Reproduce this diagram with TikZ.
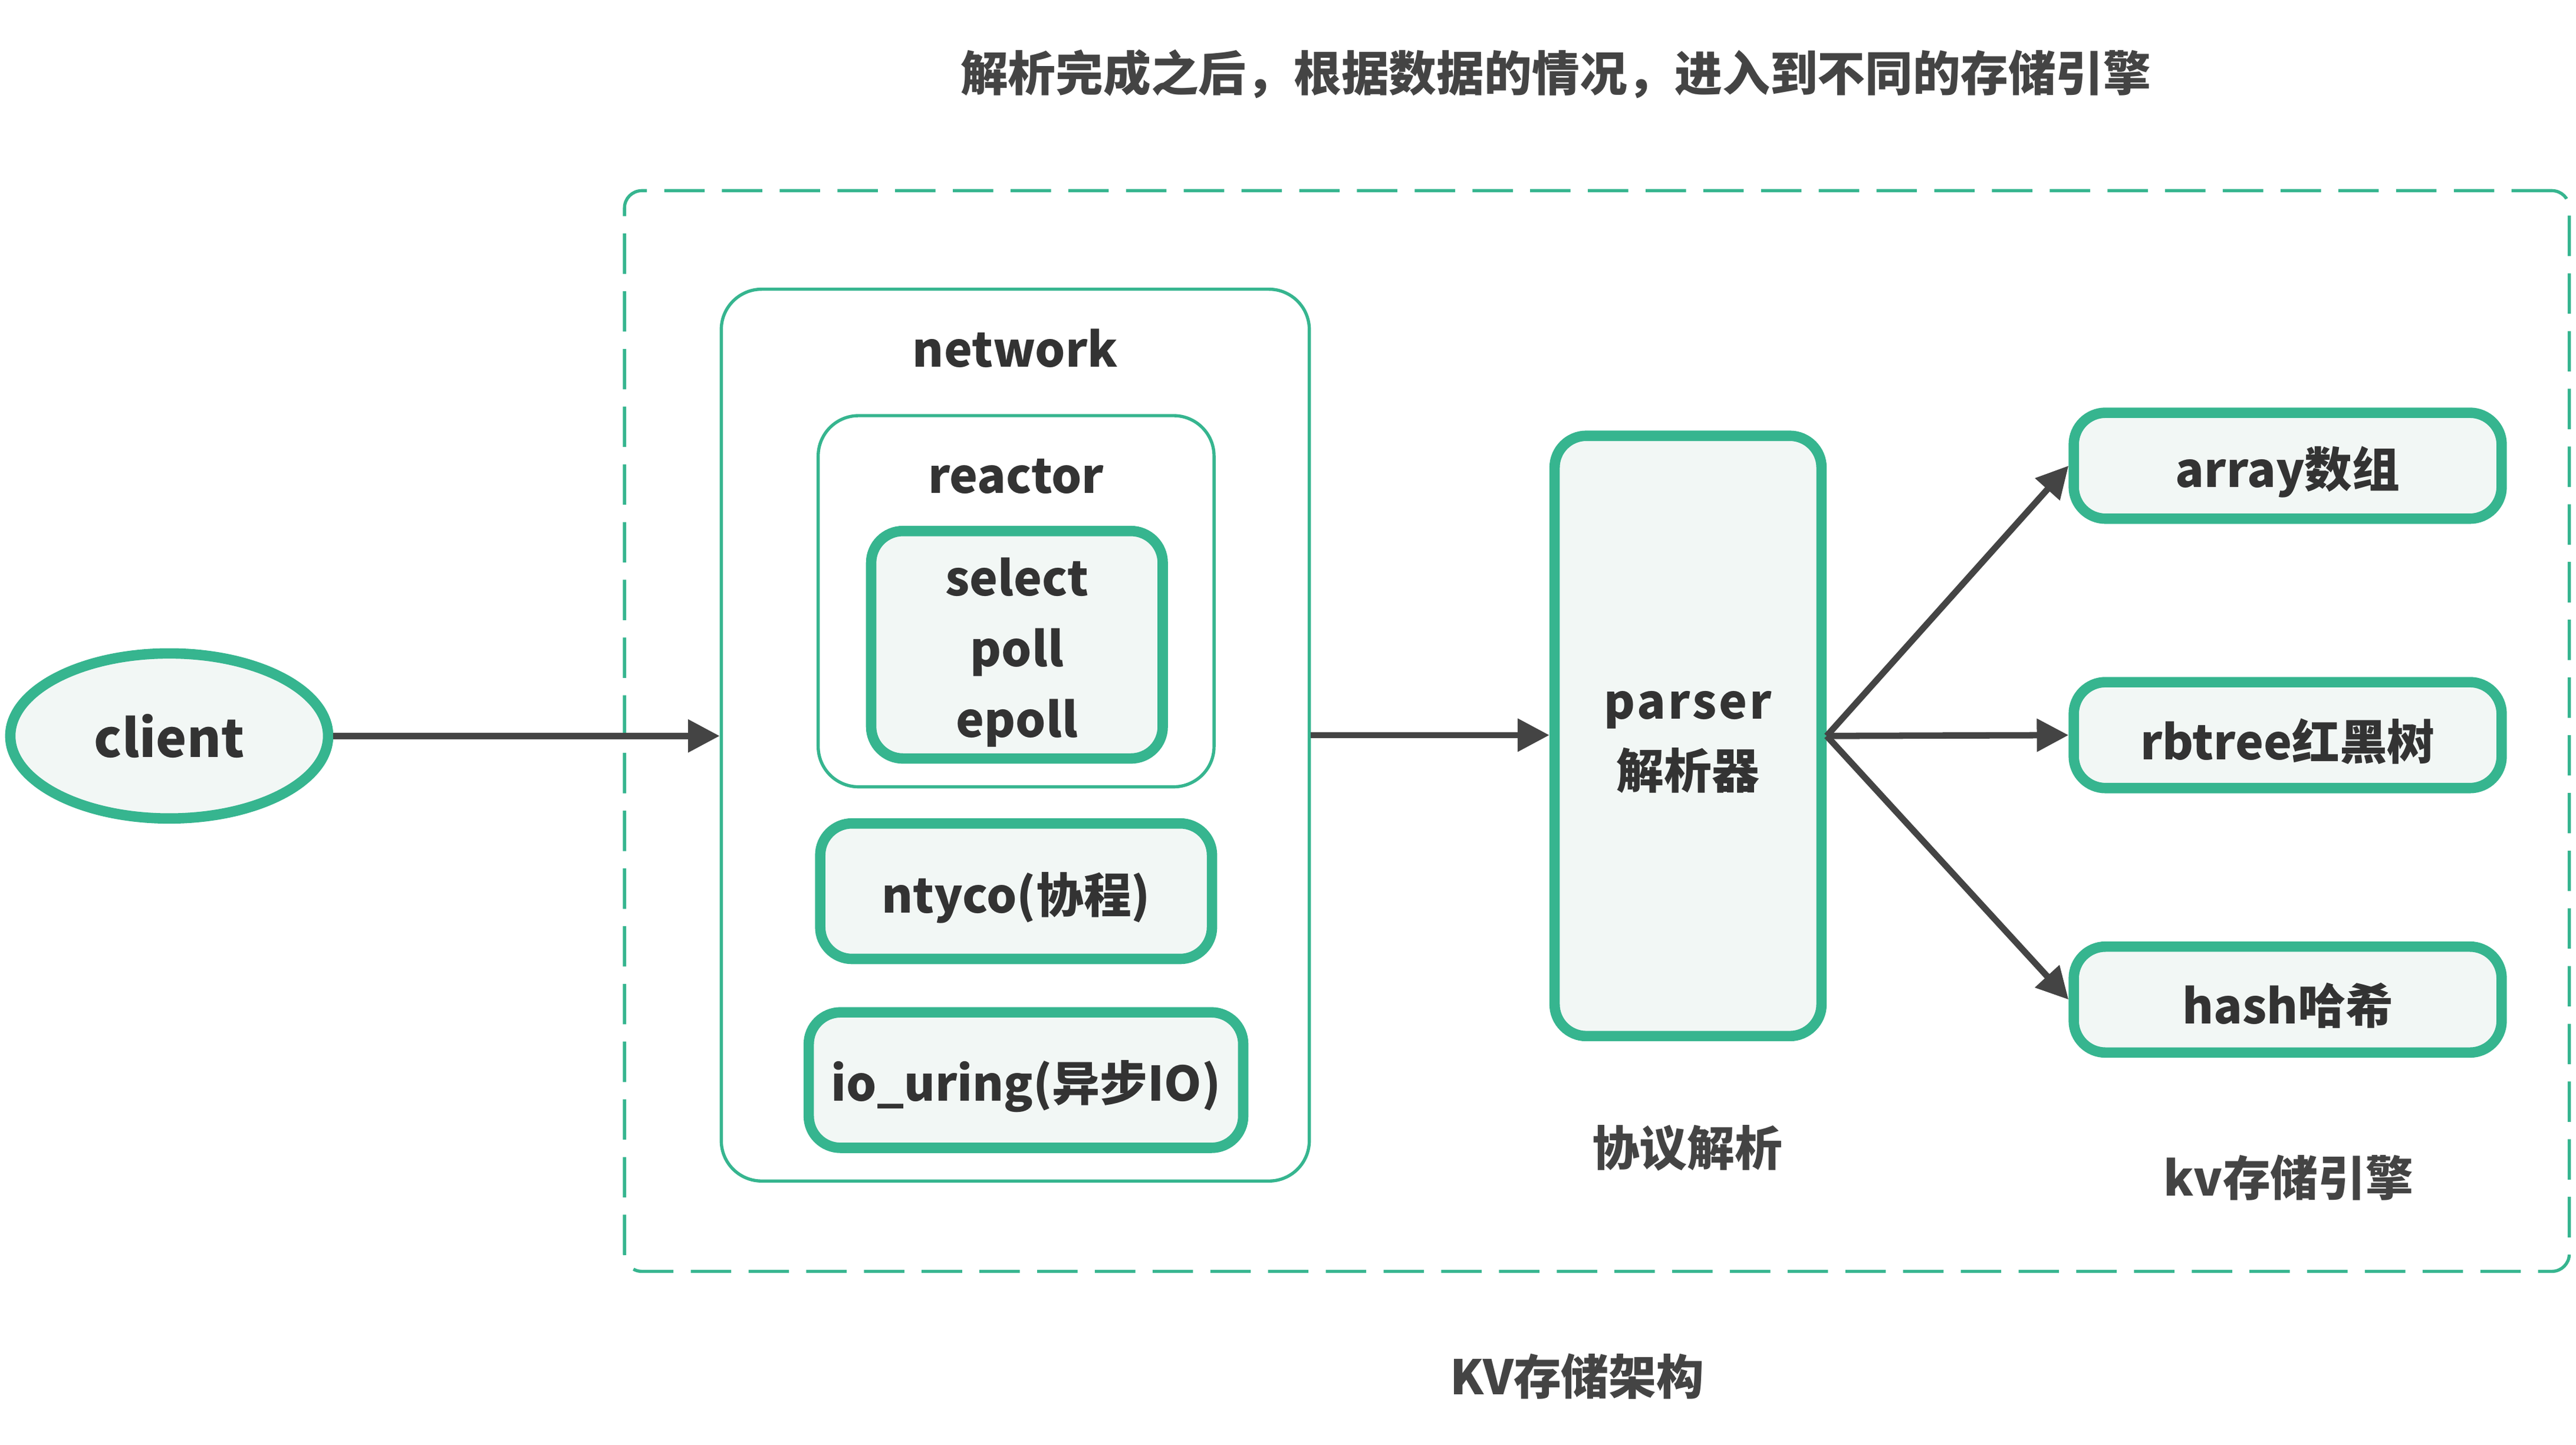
\documentclass[tikz,border=0pt]{standalone}
\usepackage{fontspec}
\setmainfont{Noto Sans CJK SC}
\usetikzlibrary{shapes.geometric,arrows.meta}
\definecolor{kvgreen}{HTML}{36B58F}
\definecolor{kvfill}{HTML}{F2F7F5}
\definecolor{kvtext}{HTML}{333333}
\definecolor{kvgray}{HTML}{444444}
\begin{document}
\begin{tikzpicture}[x=0.02cm,y=-0.02cm,
    thinbox/.style={draw=kvgreen,line width=1.1pt,rounded corners=14pt,inner sep=0pt},
    thickbox/.style={draw=kvgreen,fill=kvfill,line width=3.6pt,rounded corners=11pt,inner sep=0pt,text=kvtext,align=center,font=\fontsize{16.5pt}{24.5pt}\selectfont\bfseries,execute at begin node={\rule{0pt}{18.5pt}}},
    boxtitle/.style={text=kvtext,font=\fontsize{16.5pt}{20pt}\selectfont\bfseries},
    caption/.style={text=kvgray,font=\fontsize{16.5pt}{20pt}\selectfont\bfseries},
    flow/.style={draw=kvgray,line width=2.2pt,-{Triangle[length=11pt,width=11pt]}}]
    \useasboundingbox (0,0) rectangle (1568,879.3);
    \node[caption](title)at(947,45){解析完成之后，根据数据的情况，进入到不同的存储引擎};
    \node[draw=kvgreen,line width=1.1pt,dashed,dash pattern=on 14pt off 6pt,rounded corners=6pt,minimum width=23.68cm,minimum height=13.16cm,inner sep=0pt](kv)at(972,445){};
    \node[ellipse,draw=kvgreen,fill=kvfill,line width=3.6pt,inner sep=0pt,minimum width=3.87cm,minimum height=2.01cm,text=kvtext,font=\fontsize{18pt}{22pt}\selectfont\bfseries](client)at(103,448){client};
    \node[thinbox,minimum width=7.16cm,minimum height=10.86cm](network)at(618,447.5){};
    \node[boxtitle](networktitle)at(618,212){network};
    \node[thinbox,minimum width=4.82cm,minimum height=4.52cm](reactor)at(618.5,366){};
    \node[boxtitle](reactortitle)at(618.5,290){reactor};
    \node[thickbox,minimum width=3.55cm,minimum height=2.77cm](events)at(619,392.5){\rule{0pt}{18.5pt}select\\poll\\epoll};
    \node[thickbox,minimum width=4.77cm,minimum height=1.65cm](ntyco)at(618.5,542.5){ntyco(协程)};
    \node[thickbox,minimum width=5.29cm,minimum height=1.65cm](iouring)at(624.5,657.5){io\_uring(异步IO)};
    \node[thickbox,minimum width=3.25cm,minimum height=7.31cm,font=\fontsize{16.5pt}{24pt}\selectfont\bfseries](parser)at(1027.5,448){\rule{0pt}{14pt}\addfontfeature{LetterSpace=5}parser\\解析器};
    \node[caption](parsercaption)at(1027,699){协议解析};
    \node[thickbox,minimum width=5.21cm,minimum height=1.29cm](array)at(1392.5,283.5){array数组};
    \node[thickbox,minimum width=5.21cm,minimum height=1.29cm](rbtree)at(1392.5,447.5){rbtree红黑树};
    \node[thickbox,minimum width=5.21cm,minimum height=1.29cm](hash)at(1392.5,608.5){hash哈希};
    \node[caption](storecaption)at(1393,717){kv存储引擎};
    \node[caption](kvcaption)at(960,838){KV存储架构};
    \draw[flow](client.east)--(client.east-|network.west);
    \draw[flow](network.east)--(network.east-|parser.west);
    \coordinate(fan)at(parser.east);
    \draw[flow](fan)--(array.west);
    \draw[flow](fan)--(rbtree.west);
    \draw[flow](fan)--(hash.west);
\end{tikzpicture}
\end{document}
